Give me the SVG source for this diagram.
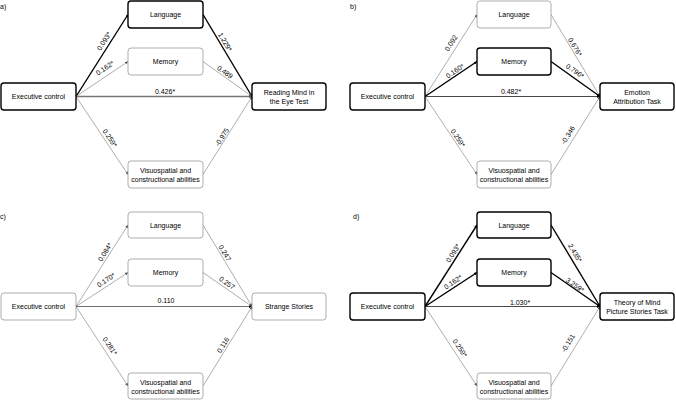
<svg xmlns="http://www.w3.org/2000/svg" width="676" height="400" viewBox="0 0 676 400">
<defs>
<marker id="ak" viewBox="0 0 6 6" refX="6" refY="3" markerWidth="3" markerHeight="3" orient="auto" markerUnits="userSpaceOnUse"><path d="M0,0 L6,3 L0,6 z" fill="#000"/></marker>
<marker id="ag" viewBox="0 0 6 6" refX="6" refY="3" markerWidth="3" markerHeight="3" orient="auto" markerUnits="userSpaceOnUse"><path d="M0,0 L6,3 L0,6 z" fill="#555"/></marker>
</defs>
<style>
text{font-family:"Liberation Sans",Arial,sans-serif;font-size:7px;fill:#000}
.n{text-anchor:middle}
.bx{fill:#fff;stroke:#000;stroke-width:1.4}
.bt{fill:#fff;stroke:#777;stroke-width:0.6}
.lk{stroke:#000;stroke-width:1.4;fill:none;marker-end:url(#ak)}
.lt{stroke:#777;stroke-width:0.6;fill:none;marker-end:url(#ag)}
.lm{stroke:#777;stroke-width:1.3;fill:none;marker-end:url(#ag)}
.ld{stroke:#333;stroke-width:0.9;fill:none;marker-end:url(#ak)}
.lab{text-anchor:middle;font-size:7px}
</style>

<!-- Panel a -->
<g id="panel-a">
<text x="0" y="9">a)</text>
<g id="a-connectors">
<line class="lk" x1="76" y1="96.5" x2="128" y2="14.5"/>
<line class="lt" x1="76" y1="96.5" x2="128" y2="61.5"/>
<line class="lt" x1="76" y1="96.5" x2="128" y2="174.5"/>
<line class="lm" x1="76" y1="96.5" x2="252" y2="96.5"/>
<line class="lk" x1="203" y1="14.5" x2="252" y2="96.5"/>
<line class="lt" x1="203" y1="61.5" x2="252" y2="96.5"/>
<line class="lt" x1="203" y1="174.5" x2="252" y2="96.5"/>
<text class="lab" x="104" y="43.5" transform="rotate(-57.6 104 41)">0.093*</text>
<text class="lab" x="105" y="70.5" transform="rotate(-34 105 68)">0.162*</text>
<text class="lab" x="165" y="93.5">0.426*</text>
<text class="lab" x="110" y="140.5" transform="rotate(56.3 110 138)">0.259*</text>
<text class="lab" x="225" y="44.5" transform="rotate(59.1 225 42)">1.229*</text>
<text class="lab" x="225" y="74.5" transform="rotate(35.5 225 72)">0.489</text>
<text class="lab" x="222" y="139.5" transform="rotate(-57.9 222 137)">-0.975</text>
</g>
<g id="a-exec"><rect class="bx" x="1" y="83" width="75" height="27" rx="3"/><text class="n" x="38.5" y="99">Executive control</text></g>
<g id="a-lang"><rect class="bx" x="128" y="1" width="75" height="27" rx="3"/><text class="n" x="165.5" y="17">Language</text></g>
<g id="a-mem"><rect class="bt" x="128" y="48" width="75" height="27" rx="3"/><text class="n" x="165.5" y="64">Memory</text></g>
<g id="a-visuo"><rect class="bt" x="128" y="161" width="75" height="27" rx="3"/><text class="n" x="165.5" y="173">Visuospatial and</text><text class="n" x="165.5" y="182">constructional abilities</text></g>
<g id="a-out"><rect class="bx" x="252" y="83" width="74" height="27" rx="3"/><text class="n" x="289" y="95">Reading Mind in</text><text class="n" x="289" y="104">the Eye Test</text></g>
</g>

<!-- Panel b -->
<g id="panel-b">
<text x="350" y="9">b)</text>
<g id="b-connectors">
<line class="lt" x1="425" y1="96.5" x2="477" y2="14.5"/>
<line class="lk" x1="425" y1="96.5" x2="477" y2="61.5"/>
<line class="lt" x1="425" y1="96.5" x2="477" y2="174.5"/>
<line class="ld" x1="425" y1="96.5" x2="600" y2="96.5"/>
<line class="lt" x1="551" y1="14.5" x2="600" y2="96.5"/>
<line class="lk" x1="551" y1="61.5" x2="600" y2="96.5"/>
<line class="lt" x1="551" y1="174.5" x2="600" y2="96.5"/>
<text class="lab" x="451" y="45.5" transform="rotate(-57.6 451 43)">0.092</text>
<text class="lab" x="455" y="73.5" transform="rotate(-34 455 71)">0.160*</text>
<text class="lab" x="511" y="93.5">0.482*</text>
<text class="lab" x="458" y="140.5" transform="rotate(56.3 458 138)">0.259*</text>
<text class="lab" x="575" y="49.5" transform="rotate(59.1 575 47)">0.676*</text>
<text class="lab" x="575" y="73.5" transform="rotate(35.5 575 71)">0.796*</text>
<text class="lab" x="568" y="137.5" transform="rotate(-57.9 568 135)">-0.346</text>
</g>
<g id="b-exec"><rect class="bx" x="350" y="83" width="75" height="27" rx="3"/><text class="n" x="387.5" y="99">Executive control</text></g>
<g id="b-lang"><rect class="bt" x="477" y="1" width="74" height="27" rx="3"/><text class="n" x="514" y="17">Language</text></g>
<g id="b-mem"><rect class="bx" x="477" y="48" width="74" height="27" rx="3"/><text class="n" x="514" y="64">Memory</text></g>
<g id="b-visuo"><rect class="bt" x="477" y="161" width="74" height="27" rx="3"/><text class="n" x="514" y="173">Visuospatial and</text><text class="n" x="514" y="182">constructional abilities</text></g>
<g id="b-out"><rect class="bx" x="600" y="83" width="74" height="27" rx="3"/><text class="n" x="637" y="95">Emotion</text><text class="n" x="637" y="104">Attribution Task</text></g>
</g>

<!-- Panel c -->
<g id="panel-c">
<text x="0" y="219">c)</text>
<g id="c-connectors">
<line class="lt" x1="76" y1="306.5" x2="128" y2="225"/>
<line class="lt" x1="76" y1="306.5" x2="128" y2="272.5"/>
<line class="lt" x1="76" y1="306.5" x2="128" y2="386"/>
<line class="ld" x1="76" y1="306.5" x2="252" y2="306.5" style="stroke-width:0.7"/>
<line class="lt" x1="203" y1="225" x2="252" y2="306.5"/>
<line class="lt" x1="203" y1="272.5" x2="252" y2="306.5"/>
<line class="lt" x1="203" y1="386" x2="252" y2="306.5"/>
<text class="lab" x="105" y="254.5" transform="rotate(-57.5 105 252)">0.084*</text>
<text class="lab" x="106" y="282.5" transform="rotate(-33.2 106 280)">0.170*</text>
<text class="lab" x="166" y="302.5">0.110</text>
<text class="lab" x="110" y="348.5" transform="rotate(56.8 110 346)">0.281*</text>
<text class="lab" x="225" y="255.5" transform="rotate(59 225 253)">0.247</text>
<text class="lab" x="227" y="285.5" transform="rotate(34.8 227 283)">0.257</text>
<text class="lab" x="223" y="347.5" transform="rotate(-58.3 223 345)">0.116</text>
</g>
<g id="c-exec"><rect class="bt" x="1" y="293" width="75" height="27" rx="3"/><text class="n" x="38.5" y="309">Executive control</text></g>
<g id="c-lang"><rect class="bt" x="128" y="212" width="75" height="26" rx="3"/><text class="n" x="165.5" y="227.5">Language</text></g>
<g id="c-mem"><rect class="bt" x="128" y="259" width="75" height="27" rx="3"/><text class="n" x="165.5" y="275">Memory</text></g>
<g id="c-visuo"><rect class="bt" x="128" y="373" width="75" height="26" rx="3"/><text class="n" x="165.5" y="384.5">Visuospatial and</text><text class="n" x="165.5" y="393.5">constructional abilities</text></g>
<g id="c-out"><rect class="bt" x="252" y="293" width="74" height="27" rx="3"/><text class="n" x="289" y="309">Strange Stories</text></g>
</g>

<!-- Panel d -->
<g id="panel-d">
<text x="353" y="219">d)</text>
<g id="d-connectors">
<line class="lk" x1="425" y1="306.5" x2="477" y2="225"/>
<line class="lk" x1="425" y1="306.5" x2="477" y2="272.5"/>
<line class="lt" x1="425" y1="306.5" x2="477" y2="386"/>
<line class="ld" x1="425" y1="306.5" x2="600" y2="306.5"/>
<line class="lk" x1="551" y1="225" x2="600" y2="306.5"/>
<line class="lk" x1="551" y1="272.5" x2="600" y2="306.5"/>
<line class="lt" x1="551" y1="386" x2="600" y2="306.5"/>
<text class="lab" x="453" y="255.5" transform="rotate(-57.5 453 253)">0.093*</text>
<text class="lab" x="453" y="284.5" transform="rotate(-33.2 453 282)">0.162*</text>
<text class="lab" x="520" y="304.5">1.030*</text>
<text class="lab" x="460" y="350.5" transform="rotate(56.8 460 348)">0.259*</text>
<text class="lab" x="575" y="255.5" transform="rotate(59 575 253)">2.435*</text>
<text class="lab" x="575" y="287.5" transform="rotate(34.8 575 285)">3.259*</text>
<text class="lab" x="568" y="345.5" transform="rotate(-58.3 568 343)">-0.151</text>
</g>
<g id="d-exec"><rect class="bx" x="350" y="293" width="75" height="27" rx="3"/><text class="n" x="387.5" y="309">Executive control</text></g>
<g id="d-lang"><rect class="bx" x="477" y="212" width="74" height="26" rx="3"/><text class="n" x="514" y="227.5">Language</text></g>
<g id="d-mem"><rect class="bx" x="477" y="259" width="74" height="27" rx="3"/><text class="n" x="514" y="275">Memory</text></g>
<g id="d-visuo"><rect class="bt" x="477" y="373" width="74" height="26" rx="3"/><text class="n" x="514" y="384.5">Visuospatial and</text><text class="n" x="514" y="393.5">constructional abilities</text></g>
<g id="d-out"><rect class="bx" x="600" y="293" width="74" height="27" rx="3"/><text class="n" x="637" y="305">Theory of Mind</text><text class="n" x="637" y="314">Picture Stories Task</text></g>
</g>
</svg>
